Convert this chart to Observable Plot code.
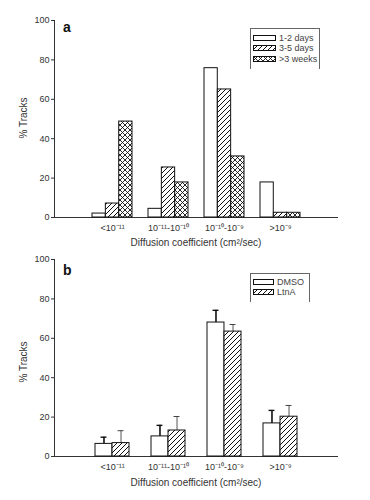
<!DOCTYPE html>
<html>
<head>
<meta charset="utf-8">
<script src="https://cdn.jsdelivr.net/npm/d3@7"></script>
<script src="https://cdn.jsdelivr.net/npm/@observablehq/plot@0.6"></script>
<style>
  body { margin: 0; background: #fff; }
  #root { position: relative; width: 370px; height: 500px; font-family: "Liberation Sans", Arial, sans-serif; color: #333; }
  .panel { position: relative; width: 370px; height: 250px; }
  .panel svg { position: absolute; left: 0; top: 0; }
  .abs { position: absolute; white-space: nowrap; }
  .plabel { font-weight: bold; font-size: 14px; color: #111; }
  .ytitle { font-size: 10px; transform: translate(-50%, -50%) rotate(-90deg); }
  .xtitle { font-size: 10px; transform: translate(-50%, -50%); }
  .legend { border: 1px solid #666; border-bottom: none; box-sizing: border-box; }
  .litem { position: absolute; display: flex; align-items: center; font-size: 9px; color: #444; }
  .litem svg { position: static; margin-right: 3px; }
</style>
</head>
<body>
<div id="root">
  <div class="panel" id="pa"></div>
  <div class="panel" id="pb"></div>
</div>
<script>
// ---- data ----
const categories = ["<1e-11", "1e-11-1e-10", "1e-10-1e-9", ">1e-9"];
const tickLabels = ["<10⁻¹¹", "10⁻¹¹-10⁻¹⁰", "10⁻¹⁰-10⁻⁹", ">10⁻⁹"];

const seriesA = ["1-2 days", "3-5 days", ">3 weeks"];
const a_1to2days = [2.0, 4.4, 75.8, 17.8];
const a_3to5days = [7.1, 25.4, 65.0, 2.4];
const a_3weeks = [48.7, 17.8, 31.0, 2.4];

const seriesB = ["DMSO", "LtnA"];
const b_dmso = [6.4, 10.2, 68.0, 16.8];
const b_dmsoErr = [3.4, 5.6, 6.2, 6.6];
const b_ltna = [6.8, 13.2, 63.4, 20.2];
const b_ltnaErr = [6.3, 7.1, 3.6, 5.7];

const yTicks = [0, 20, 40, 60, 80, 100];
const xTitle = "Diffusion coefficient (cm²/sec)";
const yTitle = "% Tracks";

// ---- helpers ----
function addPatterns(svg, prefix) {
  const defs = d3.select(svg).insert("defs", ":first-child");
  const d = defs.append("pattern").attr("id", prefix + "diag").attr("patternUnits", "userSpaceOnUse")
    .attr("width", 5).attr("height", 5);
  d.append("rect").attr("width", 5).attr("height", 5).attr("fill", "white");
  d.append("path").attr("d", "M0,5L5,0M-1,1L1,-1M4,6L6,4").attr("stroke", "#111").attr("stroke-width", 1);
  const s = 5;
  const c = defs.append("pattern").attr("id", prefix + "cross").attr("patternUnits", "userSpaceOnUse")
    .attr("width", s).attr("height", s);
  c.append("rect").attr("width", s).attr("height", s).attr("fill", "white");
  c.append("path").attr("d", `M0,${s}L${s},0M-1,1L1,-1M${s-1},${s+1}L${s+1},${s-1}M0,0L${s},${s}M-1,${s-1}L1,${s+1}M${s-1},-1L${s+1},1`)
    .attr("stroke", "#111").attr("stroke-width", 0.9);
}
function swatch(fill, prefix, w, h) {
  const s = d3.create("svg").attr("width", w + 1).attr("height", h + 1);
  addPatterns(s.node(), prefix);
  s.append("rect").attr("x", 0.5).attr("y", 0.5).attr("width", w).attr("height", h)
    .attr("fill", fill === "white" ? "white" : `url(#${prefix}${fill})`).attr("stroke", "#111");
  return s.node();
}
const fmt = d => tickLabels[categories.indexOf(d)];

const W = 370, H = 250, ML = 54, MR = 33;
const commonStyle = { fontFamily: "'Liberation Sans', Arial, sans-serif", fontSize: "9px", color: "#333", background: "white", overflow: "visible" };

// ---- panel a ----
{
  const pi = 0.292, po = 0.646;
  const step = (W - ML - MR) / (categories.length - pi + 2 * po);
  const bw = step * (1 - pi);
  const sub = bw / 3;
  const rows = categories.map((c, i) => ({ c, v1: a_1to2days[i], v2: a_3to5days[i], v3: a_3weeks[i] }));
  const plot = Plot.plot({
    width: W, height: H, marginLeft: ML, marginRight: MR, marginTop: 20, marginBottom: 33,
    style: commonStyle,
    x: { domain: categories, paddingInner: pi, paddingOuter: po, label: null, tickSize: 0, tickPadding: 7, tickFormat: fmt, line: true },
    y: { domain: [0, 100], ticks: yTicks, label: null, tickSize: 3, tickPadding: 2, line: true },
    marks: [
      Plot.barY(rows, { x: "c", y: "v1", fill: "white", stroke: "#111", strokeWidth: 1, insetLeft: 0, insetRight: 2 * sub }),
      Plot.barY(rows, { x: "c", y: "v2", fill: "url(#adiag)", stroke: "#111", strokeWidth: 1, insetLeft: sub, insetRight: sub }),
      Plot.barY(rows, { x: "c", y: "v3", fill: "url(#across)", stroke: "#111", strokeWidth: 1, insetLeft: 2 * sub, insetRight: 0 })
    ]
  });
  addPatterns(plot, "a");
  const p = document.getElementById("pa");
  p.appendChild(plot);
  p.insertAdjacentHTML("beforeend",
    `<div class="abs plabel" style="left:63px;top:19px">a</div>
     <div class="abs ytitle" style="left:23px;top:118px">${yTitle}</div>
     <div class="abs xtitle" style="left:196px;top:242px">${xTitle}</div>
     <div class="abs legend" style="left:250px;top:28px;width:70px;height:41px"></div>`);
  const fills = ["white", "diag", "cross"];
  seriesA.forEach((s, i) => {
    const it = document.createElement("div");
    it.className = "litem";
    it.style.left = "253px";
    it.style.top = (33 + i * 10.4) + "px";
    it.appendChild(swatch(fills[i], "la" + i, 22, 5));
    it.appendChild(document.createTextNode(s));
    p.appendChild(it);
  });
}

// ---- panel b ----
{
  const pi = 0.398, po = 0.699;
  const step = (W - ML - MR) / (categories.length - pi + 2 * po);
  const bw = step * (1 - pi);
  const sub = bw / 2;
  const cap = 3;
  const rows = categories.map((c, i) => ({
    c, d: b_dmso[i], de: b_dmso[i] + b_dmsoErr[i], l: b_ltna[i], le: b_ltna[i] + b_ltnaErr[i]
  }));
  const plot = Plot.plot({
    width: W, height: H, marginLeft: ML, marginRight: MR, marginTop: 9, marginBottom: 44,
    style: commonStyle,
    x: { domain: categories, paddingInner: pi, paddingOuter: po, label: null, tickSize: 0, tickPadding: 7, tickFormat: fmt, line: true },
    y: { domain: [0, 100], ticks: yTicks, label: null, tickSize: 3, tickPadding: 2, line: true },
    marks: [
      Plot.ruleX(rows, { x: "c", y1: "d", y2: "de", dx: -sub / 2, stroke: "#111", strokeWidth: 1.6 }),
      Plot.tickY(rows, { x: "c", y: "de", dx: -sub / 2, insetLeft: bw / 2 - cap, insetRight: bw / 2 - cap, stroke: "#111", strokeWidth: 1.4 }),
      Plot.ruleX(rows, { x: "c", y1: "l", y2: "le", dx: sub / 2, stroke: "#555", strokeWidth: 1 }),
      Plot.tickY(rows, { x: "c", y: "le", dx: sub / 2, insetLeft: bw / 2 - cap, insetRight: bw / 2 - cap, stroke: "#444", strokeWidth: 1 }),
      Plot.barY(rows, { x: "c", y: "d", fill: "white", stroke: "#111", strokeWidth: 1, insetLeft: 0, insetRight: sub }),
      Plot.barY(rows, { x: "c", y: "l", fill: "url(#bdiag)", stroke: "#111", strokeWidth: 1, insetLeft: sub, insetRight: 0 })
    ]
  });
  addPatterns(plot, "b");
  const p = document.getElementById("pb");
  p.appendChild(plot);
  p.insertAdjacentHTML("beforeend",
    `<div class="abs plabel" style="left:63px;top:12px">b</div>
     <div class="abs ytitle" style="left:23px;top:112px">${yTitle}</div>
     <div class="abs xtitle" style="left:196px;top:232px">${xTitle}</div>
     <div class="abs legend" style="left:250px;top:23px;width:60px;height:29px"></div>`);
  const fills = ["white", "diag"];
  seriesB.forEach((s, i) => {
    const it = document.createElement("div");
    it.className = "litem";
    it.style.left = "253px";
    it.style.top = (27 + i * 9.5) + "px";
    it.appendChild(swatch(fills[i], "lb" + i, 20, 5));
    it.appendChild(document.createTextNode(s));
    p.appendChild(it);
  });
}
</script>
</body>
</html>
